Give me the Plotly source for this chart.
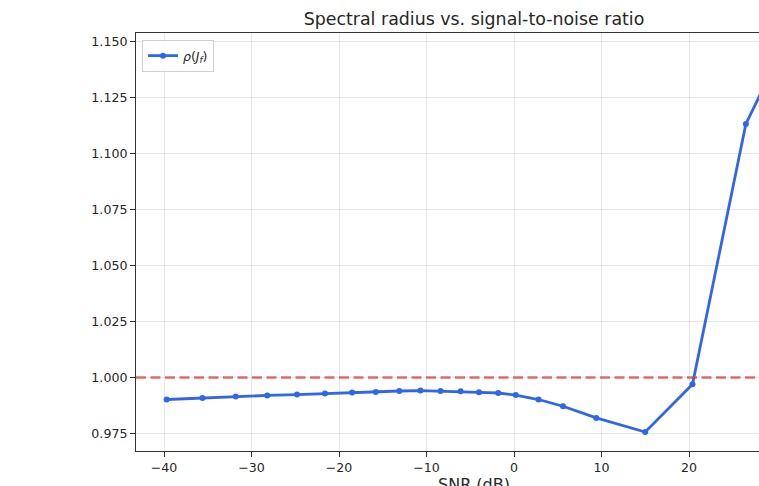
import plotly.graph_objects as go

# Data
snr_db = [-39.7, -35.6, -31.8, -28.2, -24.8, -21.6, -18.5, -15.8, -13.1, -10.7,
          -8.4, -6.1, -4.0, -1.8, 0.2, 2.8, 5.6, 9.4, 15.0, 20.4, 26.5, 30.5]
spectral_radius = [0.9902, 0.9909, 0.9915, 0.9920, 0.9924, 0.9929, 0.9933, 0.9936,
                   0.9940, 0.9942, 0.9940, 0.9939, 0.9934, 0.9931, 0.9922, 0.9902,
                   0.9872, 0.9820, 0.9757, 0.9970, 1.1131, 1.1452]
threshold = 1.0
x_ticks = [-40, -30, -20, -10, 0, 10, 20]
y_ticks = [0.975, 1.000, 1.025, 1.050, 1.075, 1.100, 1.125, 1.150]

# The reference is a crop of a wider figure: its axes extend past the right edge.
# The figure is drawn wider and the page crops it to the 759 px window.
W, H = 812, 486
L, R, T, B = 136, 0, 33, 486 - 450.7
plot_w = W - L - R
plot_h = H - T - B

FONT = "DejaVu Sans"
TXT = "#262626"
BLUE = "#2f66ea"

fig = go.Figure()
fig.add_trace(go.Scatter(
    x=snr_db, y=spectral_radius, mode="lines+markers",
    name="<i>ρ</i>(<i>J</i><sub><i>f</i></sub>)",
    line=dict(color=BLUE, width=2.8),
    marker=dict(color=BLUE, size=6),
))

fig.add_shape(type="line", xref="paper", x0=0, x1=1, yref="y", y0=threshold, y1=threshold,
              line=dict(color="rgba(222,50,50,0.72)", width=2.5, dash="10px,4.5px"),
              layer="above")

axis_common = dict(
    showgrid=True, gridcolor="rgba(176,176,176,0.3)", gridwidth=1,
    showline=True, linecolor="#333333", linewidth=1.1, mirror=True,
    ticks="outside", ticklen=5, tickwidth=1, tickcolor="#333333",
    tickfont=dict(family=FONT, size=12.6, color=TXT),
    zeroline=False,
)

fig.update_layout(
    width=W, height=H,
    margin=dict(l=L, r=R, t=T, b=B, pad=0),
    paper_bgcolor="white", plot_bgcolor="white",
    font=dict(family=FONT, color=TXT),
    title=dict(text="Spectral radius vs. signal-to-noise ratio",
               xref="paper", yref="container",
               x=0.5, xanchor="center", y=1 - 19 / H, yanchor="middle",
               font=dict(family=FONT, size=17.4, color=TXT)),
    xaxis=dict(range=[-43.2, -43.2 + plot_w / 8.75], tickvals=x_ticks, **axis_common),
    yaxis=dict(range=[0.96723, 1.1537], tickvals=y_ticks, tickformat=".3f", **axis_common),
    showlegend=True,
    legend=dict(x=(142 - L) / plot_w, y=1 - (40 - T) / plot_h, xanchor="left", yanchor="top",
                bgcolor="rgba(255,255,255,0.85)", bordercolor="#d0d0d0", borderwidth=1,
                font=dict(family=FONT, size=12.5, color=TXT), itemwidth=30),
    annotations=[dict(text="SNR (dB)", xref="paper", yref="paper",
                      x=0.5, y=-(484.5 - (H - B)) / plot_h,
                      xanchor="center", yanchor="middle", showarrow=False,
                      font=dict(family=FONT, size=16, color=TXT))],
)

fig.write_html(
    "out.html",
    config={"displayModeBar": False},
    post_script=("document.body.style.margin='0';"
                 "document.body.style.overflow='hidden';"
                 "document.documentElement.style.overflow='hidden';"),
)
